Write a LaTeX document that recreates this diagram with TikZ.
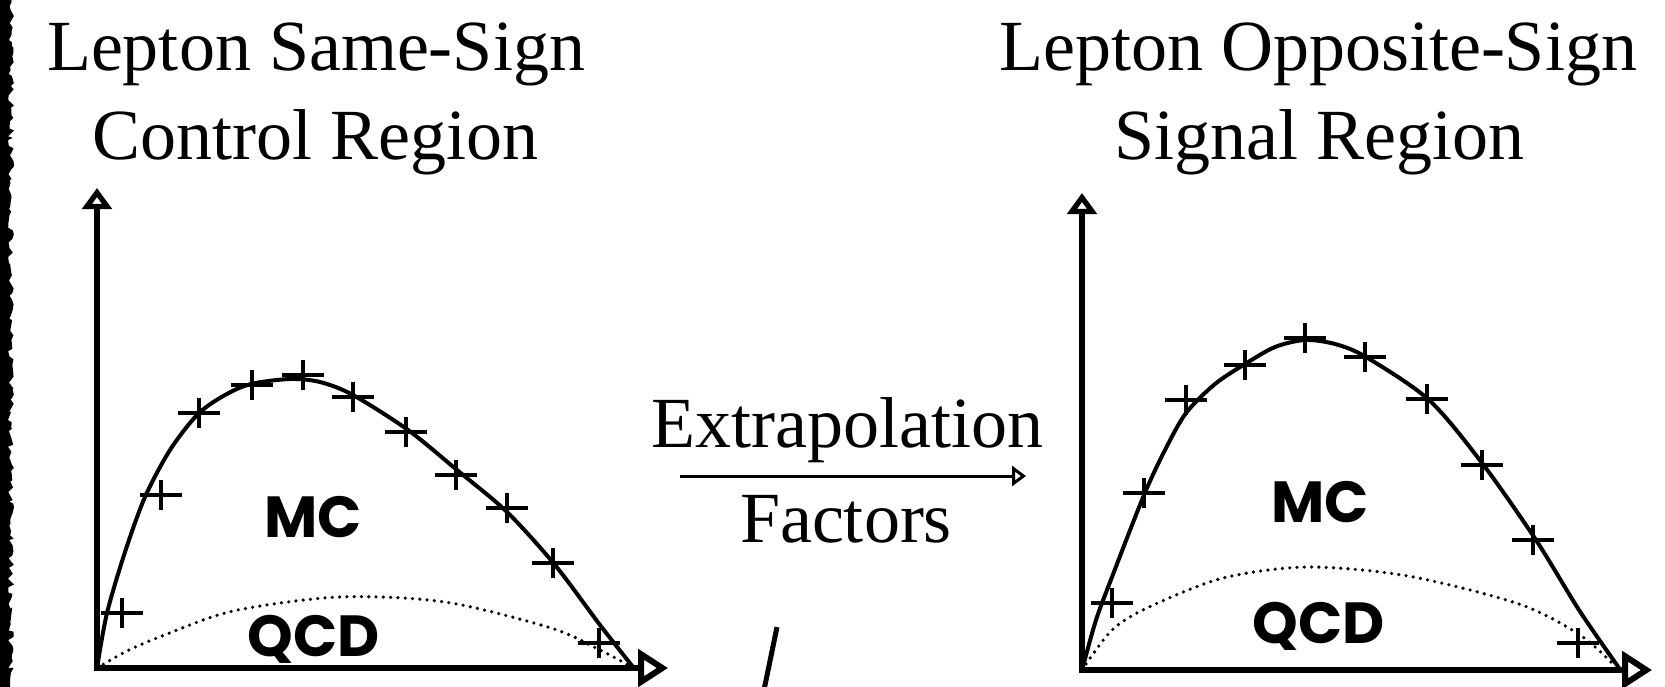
\documentclass[tikz,border=0pt]{standalone}
\usepackage{fontspec}
\setmainfont{Liberation Serif}
\newfontfamily\plotfont{Poppins}
\usetikzlibrary{arrows.meta, decorations.pathmorphing}

\tikzset{
    axis/.style={line width=6pt, line join=miter},
    mccurve/.style={line width=4pt},
    qcdcurve/.style={line width=3.6pt, dash pattern=on 0pt off 7.3pt, line cap=round},
    datacross/.pic={\draw[line width=4pt] (-21,0) -- (21,0) (0,-15) -- (0,15);},
    title/.style={font=\fontsize{72}{86}\selectfont, anchor=base, inner sep=0pt},
    region/.style={font=\plotfont\bfseries\fontsize{58}{60}\selectfont, anchor=base, inner sep=0pt},
    yaxtip/.tip={Triangle[open, length=21pt, width=29pt]},
    xaxtip/.tip={Triangle[open, length=30pt, width=37pt]},
}

\begin{document}
\begin{tikzpicture}[x=1pt, y=-1pt]
    \useasboundingbox (0,0) rectangle (1665,686);

    % Rough left edge
    \pgfmathsetseed{7}
    \fill[black] (0,-2) -- (11,-2) decorate[decoration={random steps, segment length=4pt, amplitude=3pt}] {-- (11,690)} -- (0,690) -- cycle;

    % Titles
    \node[title] (lsTitleA) at (316,70) {Lepton Same-Sign};
    \node[title] (lsTitleB) at (315,159) {Control Region};
    \node[title] (osTitleA) at (1318,70) {Lepton Opposite-Sign};
    \node[title] (osTitleB) at (1319,159) {Signal Region};

    % Axes, same-sign plot
    \coordinate (lsO) at (97,668);
    \coordinate (lsY) at (97,188);
    \coordinate (lsX) at (668,668);
    \draw[axis, yaxtip-xaxtip] (lsY) -- (lsO) -- (lsX);

    % Axes, opposite-sign plot
    \coordinate (osO) at (1082,670);
    \coordinate (osY) at (1082,193);
    \coordinate (osX) at (1652,670);
    \draw[axis, yaxtip-xaxtip] (osY) -- (osO) -- (osX);

    % MC curves
    \draw[mccurve] plot[smooth] coordinates {(97,668) (107,613) (125,552) (145,497) (170,450) (198,414) (225,395) (251,384) (290,379) (320,382) (353,395) (408,430) (457,470) (507,512) (555,565) (600,625) (633,667)};
    \draw[mccurve] plot[smooth] coordinates {(1082,670) (1096,620) (1112,577) (1144,495) (1165,450) (1186,413) (1215,384) (1245,364) (1275,347) (1305,340) (1335,344) (1366,357) (1429,400) (1482,463) (1536,540) (1579,610) (1619,668)};

    % QCD curves
    \draw[qcdcurve] plot[smooth] coordinates {(97,668) (127,651) (162,636) (233,611) (339,597) (445,602) (551,628) (600,650) (630,666)};
    \draw[qcdcurve] plot[smooth] coordinates {(1082,670) (1112,630) (1149,607) (1223,578) (1308,567) (1408,576) (1519,604) (1580,635) (1616,667)};

    % Data points
    \foreach \x/\y in {122/613, 161/495, 199/413, 252/385, 303/375, 353/397, 406/432, 456/475, 507/508, 553/563, 599/643} {
        \pic at (\x,\y) {datacross};
    }
    \foreach \x/\y in {1112/603, 1144/493, 1186/400, 1245/365, 1305/338, 1365/357, 1427/399, 1482/465, 1533/540, 1578/643} {
        \pic at (\x,\y) {datacross};
    }

    % Region labels
    \node[region] (lsMC) at (313,537) {MC};
    \node[region] (lsQCD) at (314,656) {QCD};
    \node[region] (osMC) at (1320,522) {MC};
    \node[region] (osQCD) at (1319,643) {QCD};

    % Extrapolation arrow
    \node[title] (xfTop) at (847,447) {Extrapolation};
    \node[title] (xfBot) at (846,542) {Factors};
    \coordinate (xfS) at (680,476);
    \coordinate (xfE) at (1026,476);
    \draw[line width=3pt, -{Triangle[open, length=14pt, width=20pt]}] (xfS) -- (xfE);

    % Stray stroke at the bottom
    \draw[line width=5pt] (777,627) -- (764,690);
\end{tikzpicture}
\end{document}
